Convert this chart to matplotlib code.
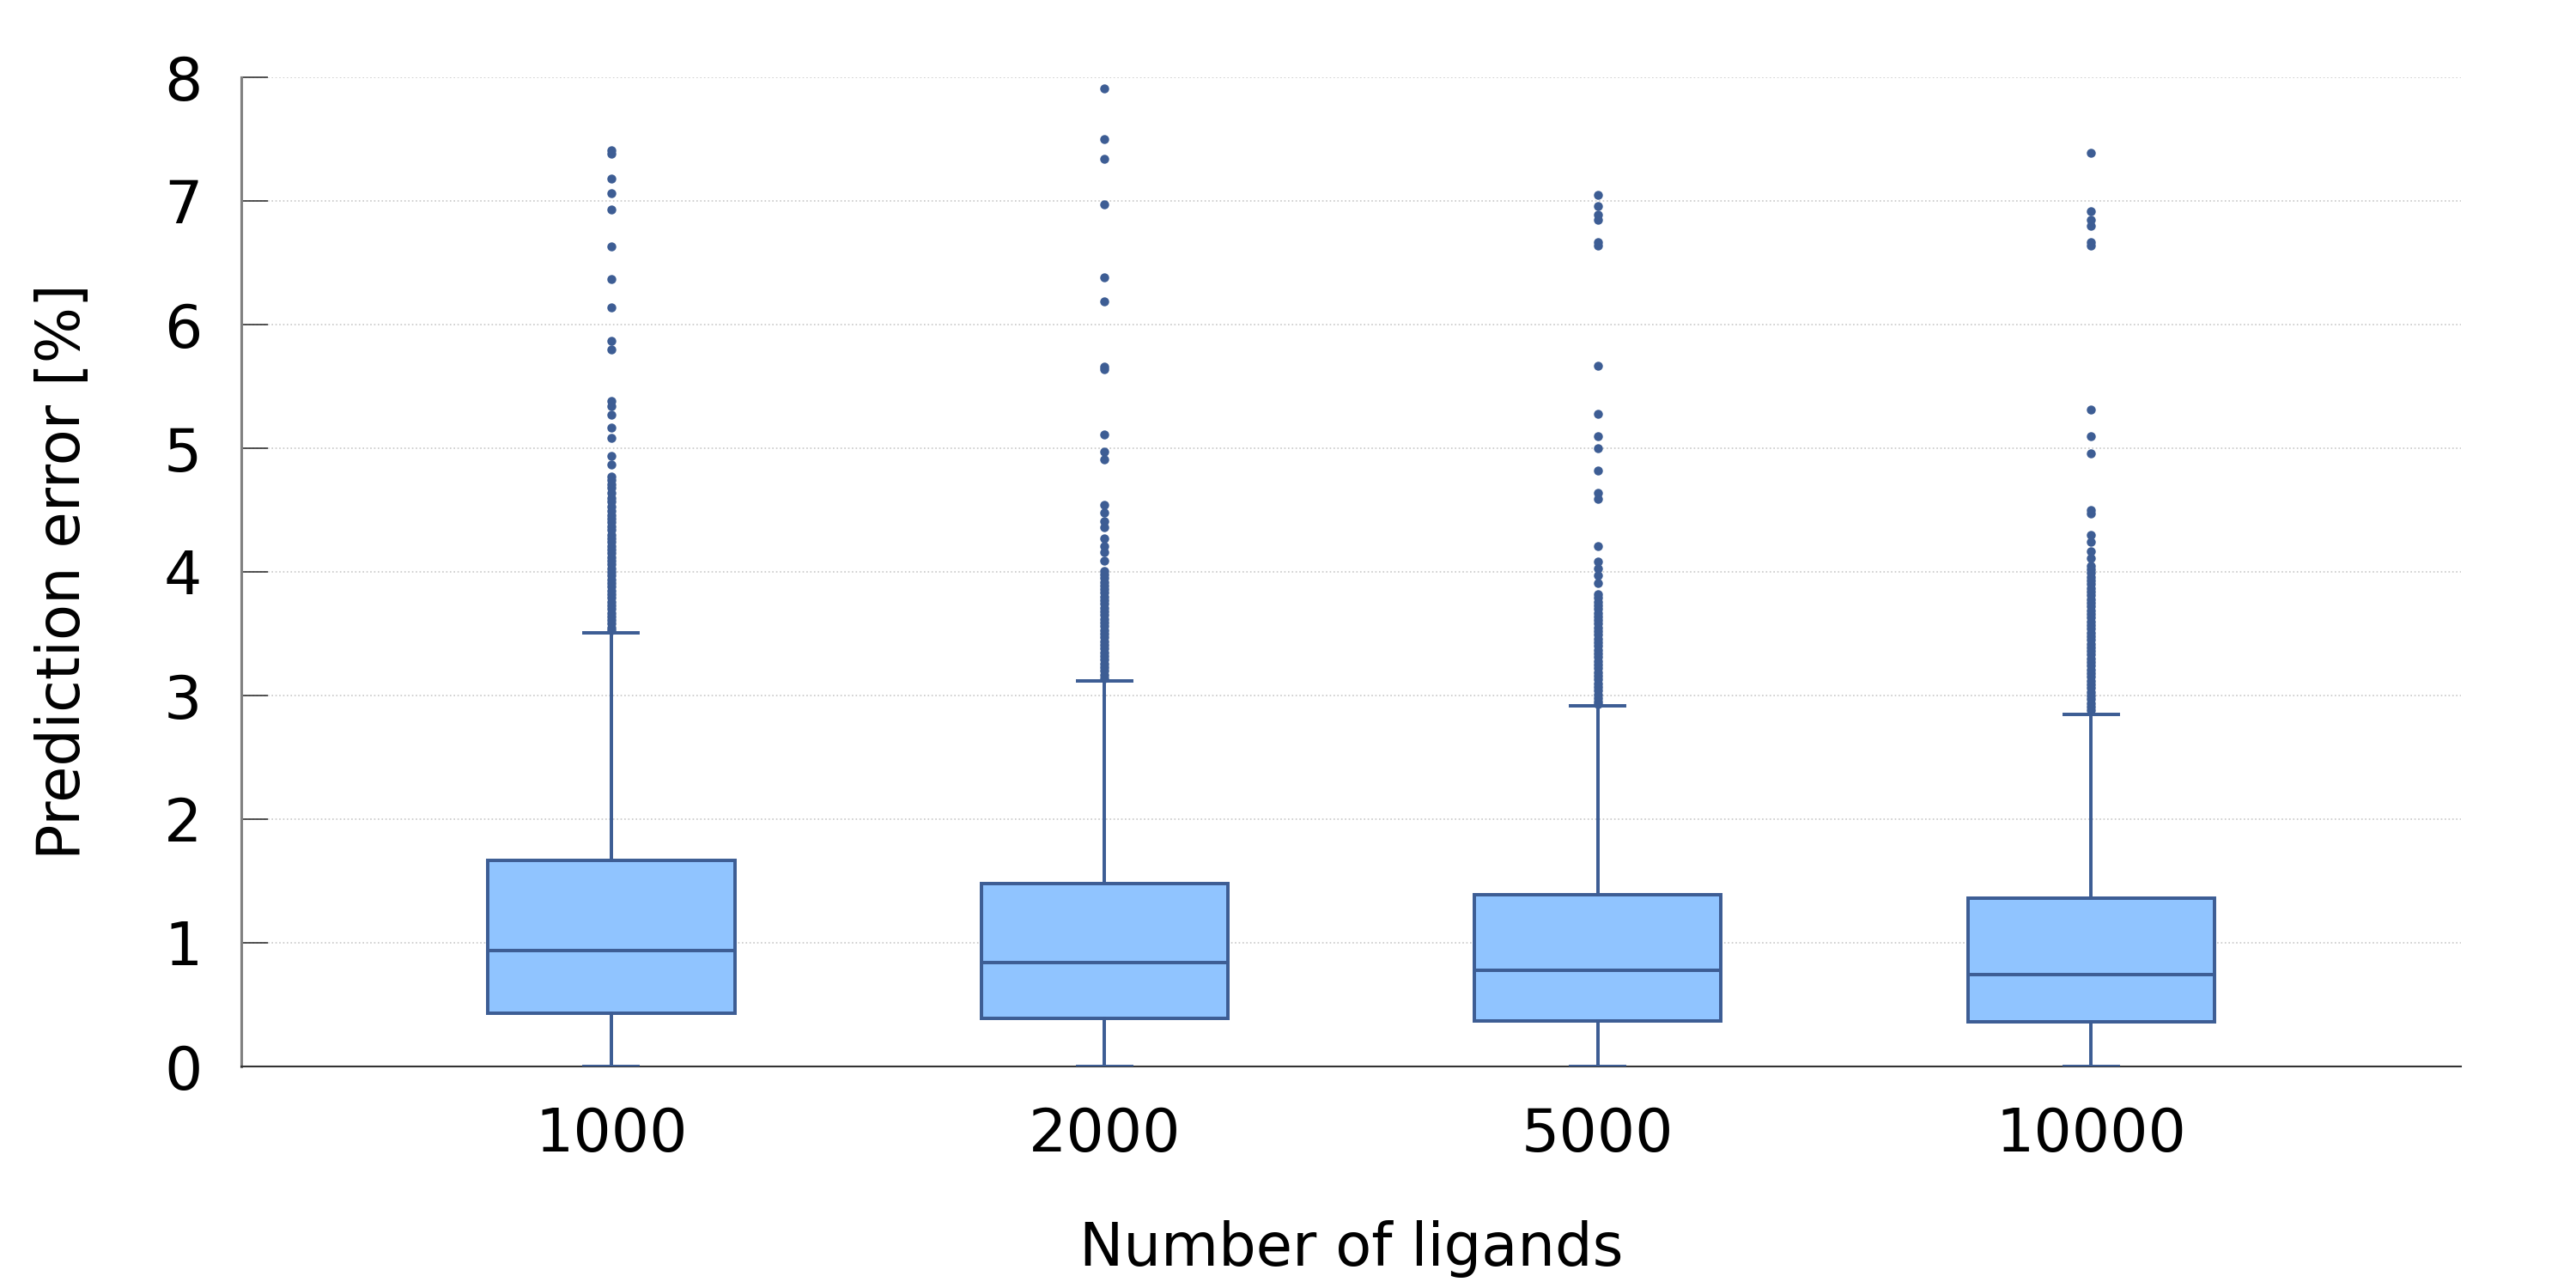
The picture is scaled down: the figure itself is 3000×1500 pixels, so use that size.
import matplotlib
matplotlib.use('Agg')
import matplotlib.pyplot as plt

# ligand counts on the x axis
labels = ['1000', '2000', '5000', '10000']

# box statistics (prediction error in %)
q1 = [0.43, 0.39, 0.37, 0.36]
medians = [0.94, 0.84, 0.78, 0.74]
q3 = [1.67, 1.48, 1.39, 1.36]
whislo = [0.0, 0.0, 0.0, 0.0]
whishi = [3.51, 3.12, 2.92, 2.85]

# outliers per group
fliers_1000 = [7.41, 7.38, 7.18, 7.06, 6.93, 6.63, 6.37, 6.14, 5.87, 5.80,
               5.38, 5.34, 5.27, 5.17, 5.08, 4.94, 4.87,
               4.77, 4.74, 4.71, 4.68, 4.64, 4.60, 4.57, 4.53, 4.49, 4.46,
               4.43, 4.40, 4.37, 4.34, 4.30, 4.27, 4.24, 4.21, 4.18, 4.15,
               4.12, 4.09, 4.06, 4.03, 4.00, 3.97, 3.94, 3.91, 3.88, 3.85,
               3.82, 3.79, 3.76, 3.73, 3.70, 3.67, 3.64, 3.61, 3.58, 3.55, 3.53]
fliers_2000 = [7.91, 7.50, 7.34, 6.97, 6.38, 6.19, 5.66, 5.64, 5.11, 4.97,
               4.91, 4.54, 4.48, 4.41, 4.36, 4.27, 4.21, 4.16, 4.09,
               4.01, 3.98, 3.95, 3.92, 3.89, 3.86, 3.83, 3.80, 3.77, 3.74,
               3.71, 3.68, 3.65, 3.62, 3.59, 3.56, 3.53, 3.50, 3.47, 3.44,
               3.41, 3.38, 3.35, 3.32, 3.29, 3.26, 3.23, 3.20, 3.17, 3.14]
fliers_5000 = [7.05, 6.96, 6.89, 6.85, 6.67, 6.64, 5.67, 5.28, 5.10, 5.00,
               4.82, 4.64, 4.59, 4.21, 4.08, 4.03, 3.97, 3.91,
               3.82, 3.79, 3.76, 3.73, 3.70, 3.67, 3.64, 3.61, 3.58, 3.55,
               3.52, 3.49, 3.46, 3.43, 3.40, 3.37, 3.34, 3.31, 3.28, 3.25,
               3.22, 3.19, 3.16, 3.13, 3.10, 3.07, 3.04, 3.01, 2.98, 2.95, 2.93]
fliers_10000 = [7.39, 6.92, 6.85, 6.80, 6.67, 6.64, 5.31, 5.10, 4.96, 4.50,
                4.47, 4.30, 4.24, 4.17, 4.11,
                4.05, 4.02, 3.99, 3.96, 3.93, 3.90, 3.87, 3.84, 3.81, 3.78,
                3.75, 3.72, 3.69, 3.66, 3.63, 3.60, 3.57, 3.54, 3.51, 3.48,
                3.45, 3.42, 3.39, 3.36, 3.33, 3.30, 3.27, 3.24, 3.21, 3.18,
                3.15, 3.12, 3.09, 3.06, 3.03, 3.00, 2.97, 2.94, 2.91, 2.88]
fliers = [fliers_1000, fliers_2000, fliers_5000, fliers_10000]

edge = '#3d5d94'
fill = '#90c4ff'

stats = []
for i in range(len(labels)):
    stats.append({'label': labels[i], 'q1': q1[i], 'med': medians[i], 'q3': q3[i],
                  'whislo': whislo[i], 'whishi': whishi[i], 'fliers': fliers[i]})

plt.rcParams['font.family'] = 'DejaVu Sans'
fig = plt.figure(figsize=(20, 10), dpi=150)
ax = fig.add_axes([0.0937, 0.172, 0.8616, 0.768])

ax.bxp(stats, positions=[1, 2, 3, 4], widths=0.5, patch_artist=True,
       boxprops=dict(facecolor=fill, edgecolor=edge, linewidth=1.9),
       medianprops=dict(color=edge, linewidth=1.9),
       whiskerprops=dict(color=edge, linewidth=1.9),
       capprops=dict(color=edge, linewidth=1.9),
       capwidths=0.11,
       flierprops=dict(marker='o', markersize=4, markerfacecolor=edge,
                       markeredgecolor=edge, linestyle='none'),
       zorder=3)

ax.set_xlim(0.25, 4.75)
ax.set_ylim(0, 8)
ax.set_yticks(range(0, 9))
ax.yaxis.grid(True, linestyle=':', color='#c8c8c8', linewidth=0.8)
ax.set_axisbelow(True)

ax.spines['top'].set_visible(False)
ax.spines['right'].set_visible(False)
ax.spines['left'].set_color('#808080')
ax.spines['left'].set_linewidth(1.5)
ax.spines['bottom'].set_color('#333333')
ax.spines['bottom'].set_linewidth(1.0)

ax.tick_params(axis='y', direction='in', length=15, width=0.8, color='#333333',
               labelsize=33.5, pad=22)
ax.tick_params(axis='x', length=0, labelsize=33.5, pad=22)

ax.set_xlabel('Number of ligands', fontsize=33, labelpad=32)
ax.set_ylabel('Prediction error [%]', fontsize=33, labelpad=40)

fig.savefig('out.png', dpi=150)
